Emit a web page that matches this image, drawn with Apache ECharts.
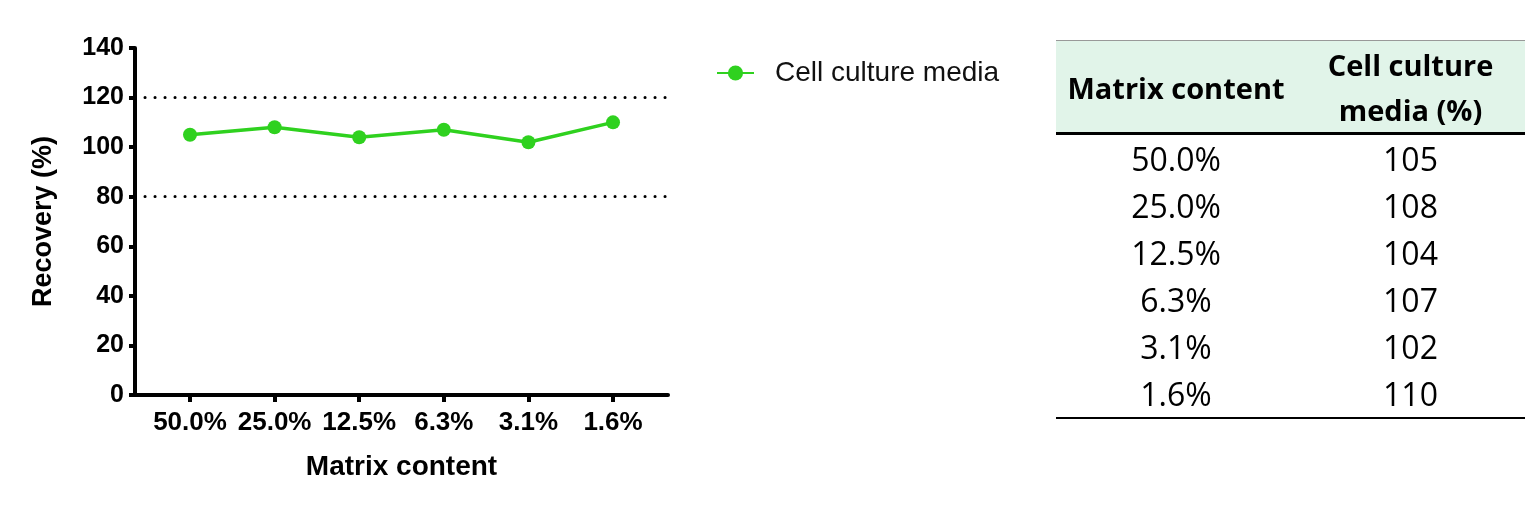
<!DOCTYPE html>
<html>
<head>
<meta charset="utf-8">
<script src="https://cdn.jsdelivr.net/npm/echarts@6/dist/echarts.min.js"></script>
<style>
  html, body { margin: 0; padding: 0; background: #fff; }
  #chart { position: absolute; left: 0; top: 0; width: 1525px; height: 507px; }
  #tbl {
    position: absolute; left: 1056px; top: 40px; width: 469px;
    border-collapse: collapse; font-family: "Open Sans", sans-serif; color: #000;
  }
  #tbl th {
    background: #e1f4e9; font-weight: bold; font-size: 29px; line-height: 45px;
    height: 88px; padding: 1px 0 0 0; border-top: 1px solid #999; border-bottom: 3px solid #000;
    text-align: center; vertical-align: middle;
  }
  #tbl td { font-size: 32px; height: 47px; padding: 0; text-align: center; line-height: 47px; }
  #tbl tr:last-child td { border-bottom: 2.5px solid #000; }
</style>
</head>
<body>
<div id="chart"></div>
<table id="tbl"><thead><tr id="hdr"></tr></thead><tbody id="rows"></tbody></table>
<script>
const categories = ['50.0%', '25.0%', '12.5%', '6.3%', '3.1%', '1.6%'];
const recovery = [105, 108, 104, 107, 102, 110];
const seriesName = 'Cell culture media';
const limits = [80, 120];
const tableHeaders = ['Matrix content', 'Cell culture<br>media (%)'];

// table on the right, built from the same arrays
document.getElementById('hdr').innerHTML =
  '<th style="width:240px">' + tableHeaders[0] + '</th><th>' + tableHeaders[1] + '</th>';
document.getElementById('rows').innerHTML = categories
  .map((c, i) => '<tr><td>' + c + '</td><td>' + recovery[i] + '</td></tr>')
  .join('');

const font = '"Liberation Sans", Arial, sans-serif';
const green = '#2fd11f';
const idx = categories.map((c, i) => i);

const chart = echarts.init(document.getElementById('chart'));
chart.setOption({
  animation: false,
  grid: { left: 135, right: 857, top: 48, bottom: 112 },
  legend: {
    left: 716, top: 59, padding: 0,
    itemWidth: 37, itemHeight: 19,
    textStyle: { fontFamily: font, fontSize: 28, color: '#111', padding: [0, 0, 0, 16] },
    data: [seriesName]
  },
  xAxis: {
    type: 'value', min: -0.65, max: 5.65,
    name: 'Matrix content', nameLocation: 'middle', nameGap: 58,
    nameTextStyle: { fontFamily: font, fontWeight: 'bold', fontSize: 28, color: '#000' },
    axisLine: { show: true, onZero: false, lineStyle: { color: '#000', width: 4 } },
    axisTick: { show: true, customValues: idx, length: 7, lineStyle: { color: '#000', width: 4 } },
    axisLabel: {
      customValues: idx, margin: 15,
      formatter: v => categories[Math.round(v)],
      fontFamily: font, fontWeight: 'bold', fontSize: 26, color: '#000'
    },
    splitLine: { show: false }
  },
  yAxis: {
    type: 'value', min: 0, max: 140, interval: 20,
    name: 'Recovery (%)', nameLocation: 'middle', nameGap: 78,
    nameTextStyle: { fontFamily: font, fontWeight: 'bold', fontSize: 27, color: '#000' },
    axisLine: { show: true, onZero: false, lineStyle: { color: '#000', width: 4 } },
    axisTick: { show: true, length: 6, lineStyle: { color: '#000', width: 4 } },
    axisLabel: { margin: 11, fontFamily: font, fontWeight: 'bold', fontSize: 25, color: '#000' },
    splitLine: { show: false }
  },
  series: [{
    name: seriesName,
    type: 'line',
    data: recovery.map((v, i) => [i, v]),
    symbol: 'circle', symbolSize: 14,
    lineStyle: { color: green, width: 3.5 },
    itemStyle: { color: green },
    markLine: {
      silent: true, symbol: 'none',
      label: { show: false },
      lineStyle: { color: '#000', width: 3, type: [0.1, 9.9], cap: 'round' },
      data: limits.map(y => ({ yAxis: y }))
    }
  }]
});
</script>
</body>
</html>
